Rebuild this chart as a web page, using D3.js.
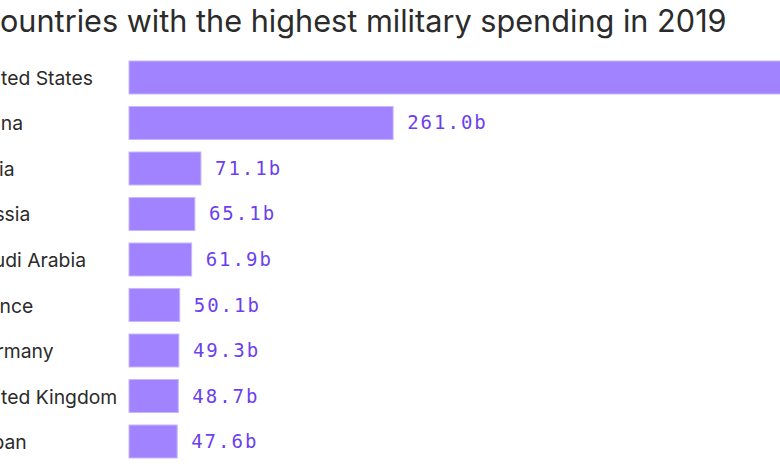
<!DOCTYPE html>
<html><head><meta charset="utf-8">
<script src="https://cdn.jsdelivr.net/npm/d3@7"></script>
<style>
html,body{margin:0;padding:0;background:#fff;overflow:hidden}
svg{display:block}
</style></head>
<body>
<svg id="chart" width="780" height="470"></svg>
<script>
const titleText = "Countries with the highest military spending in 2019";
const countries = ["United States","China","India","Russia","Saudi Arabia","France","Germany","United Kingdom","Japan"];
const spending = [731.8,261.0,71.1,65.1,61.9,50.1,49.3,48.7,47.6];

const svg = d3.select("#chart");
const x = d3.scaleLinear().domain([0, 750]).range([129, 129 + 759]);
const y = d3.scaleBand().domain(countries).range([61, 458]).paddingInner(0.275).paddingOuter(0);
const data = countries.map((c, i) => ({c, v: spending[i]}));
const sansFont = "Inter, 'Noto Sans', sans-serif";

// title
const title = svg.append("text")
  .attr("y", 32)
  .attr("font-family", sansFont)
  .attr("font-size", 29)
  .attr("fill", "#2b2b2b")
  .text(titleText);
// fit: "ountries ... 2019" spans x 0 -> 727
{
  const node = title.node();
  const full = node.getComputedTextLength();
  const cW = node.getSubStringLength(0, 1);
  const fs = 29 * 727 / (full - cW);
  title.attr("font-size", fs);
  title.attr("x", -node.getSubStringLength(0, 1));
}

// bars
svg.append("g").selectAll("rect").data(data).join("rect")
  .attr("x", x(0))
  .attr("y", d => y(d.c))
  .attr("width", d => x(d.v) - x(0))
  .attr("height", y.bandwidth())
  .attr("fill", "#a183ff")
  .attr("stroke", "#c7b6ff")
  .attr("stroke-width", 1);

// category labels: fit so that "ted States" spans 1 -> 93 (first letters clipped by the frame)
let labelFs = 18, labelX = -23;
{
  const probe = svg.append("text").attr("font-family", sansFont).attr("font-size", 18).text(countries[0]);
  const n = probe.node();
  const full = n.getComputedTextLength();
  const pre = n.getSubStringLength(0, 3);
  labelFs = 18 * 92 / (full - pre);
  probe.attr("font-size", labelFs);
  labelX = 1 - n.getSubStringLength(0, 3);
  probe.remove();
}
svg.append("g").selectAll("text").data(data).join("text")
  .attr("x", labelX)
  .attr("y", d => y(d.c) + y.bandwidth() / 2 + 7.5)
  .attr("font-family", sansFont)
  .attr("font-size", labelFs)
  .attr("fill", "#2b2b2b")
  .text(d => d.c);

// value labels
svg.append("g").selectAll("text").data(data).join("text")
  .attr("x", d => x(d.v) + 14)
  .attr("y", d => y(d.c) + y.bandwidth() / 2 + 6.5)
  .attr("font-family", "'DejaVu Sans Mono', 'Liberation Mono', monospace")
  .attr("font-size", 19)
  .attr("letter-spacing", 2)
  .attr("fill", "#6b3ff0")
  .text(d => d3.format(".1f")(d.v) + "b");
</script>
</body></html>
